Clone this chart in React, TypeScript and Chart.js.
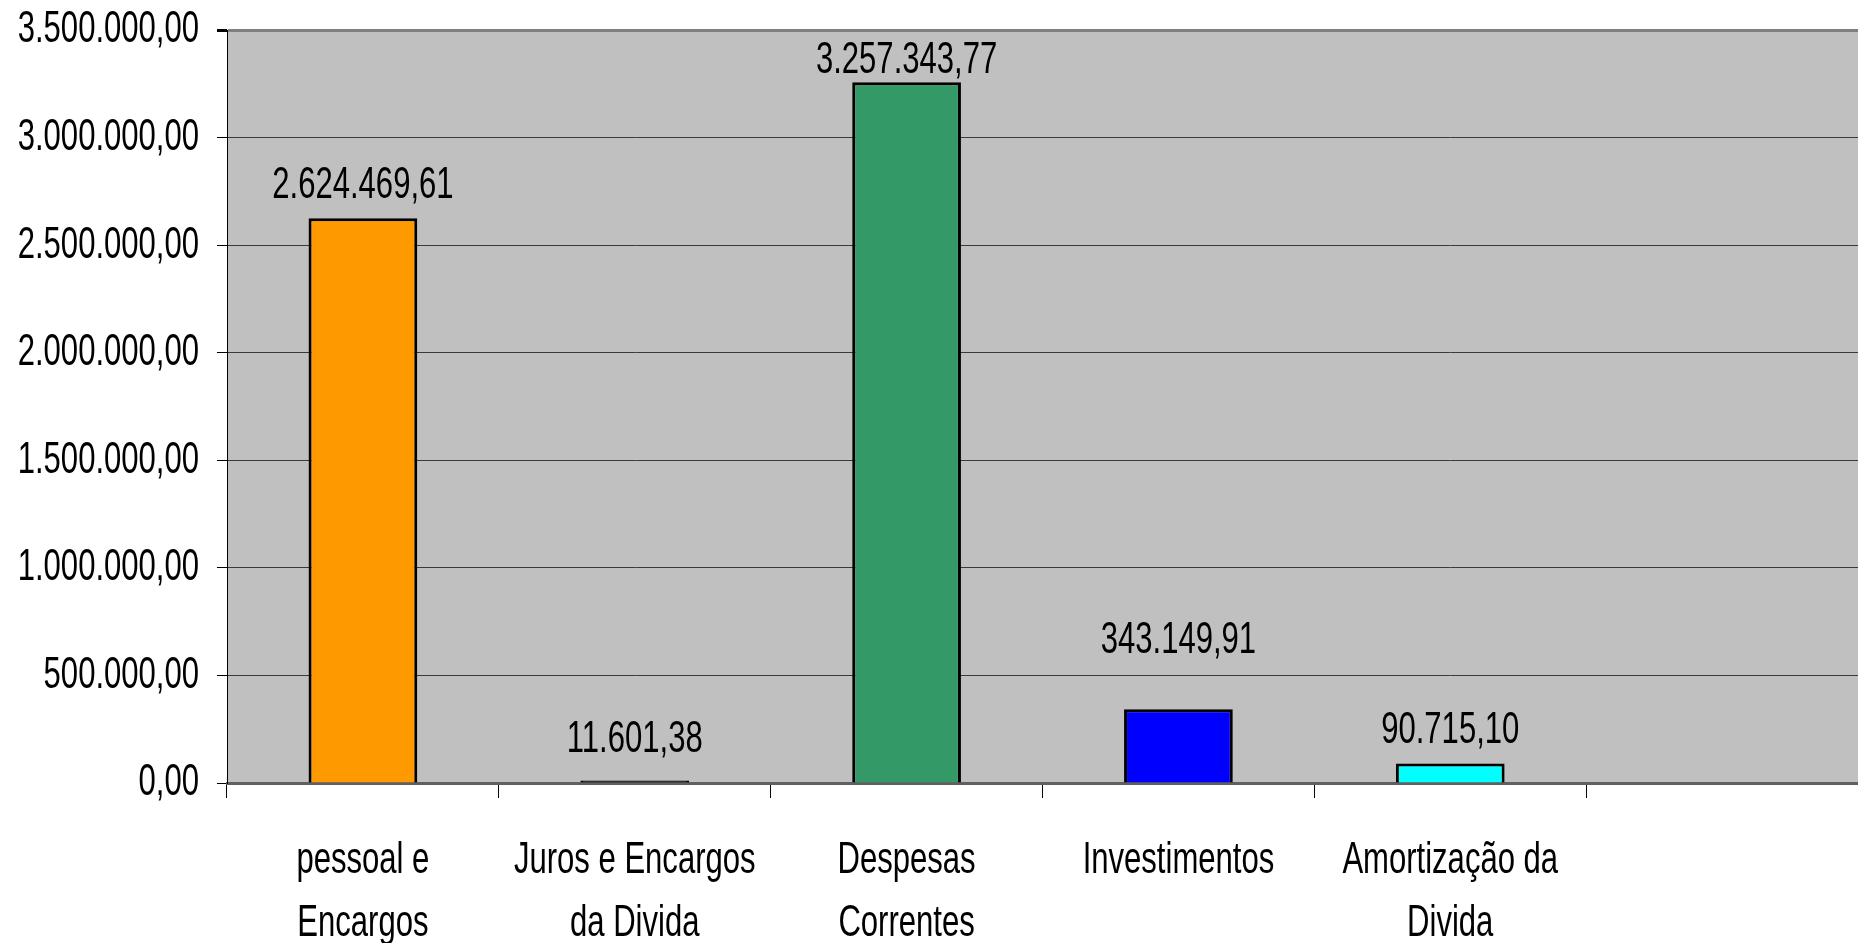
import React, { useEffect, useRef } from "react";
import { Chart, registerables } from "chart.js";

Chart.register(...registerables);

const categories: (string | string[])[] = [
  ["pessoal e", "Encargos"],
  ["Juros e Encargos", "da Divida"],
  ["Despesas", "Correntes"],
  ["Investimentos"],
  ["Amortização da", "Divida"],
  "",
];
const values: (number | null)[] = [2624469.61, 11601.38, 3257343.77, 343149.91, 90715.1, null];
const barColors = ["#FF9900", "#000000", "#339966", "#0000FF", "#00FFFF", "#000000"];
const yMin = 0;
const yMax = 3500000;
const yStep = 500000;
// pixel gap between each value label's baseline and its bar top
const labelLift = [20, 29, 9, 56, 20, 0];

const FONT = '"Liberation Sans", Arial, sans-serif';
const FONT_SIZE = 45;
const TEXT_SQUEEZE = 0.69; // horizontal condensing of all text

function fmt(v: number): string {
  const [i, d] = Math.abs(v).toFixed(2).split(".");
  return i.replace(/\B(?=(\d{3})+(?!\d))/g, ".") + "," + d;
}

const bgPlugin = {
  id: "plotBg",
  beforeDraw(chart: any) {
    const { ctx, chartArea } = chart;
    ctx.save();
    ctx.fillStyle = "#C0C0C0";
    ctx.fillRect(chartArea.left, chartArea.top, chartArea.right - chartArea.left, chartArea.bottom - chartArea.top);
    ctx.restore();
  },
};

const labelPlugin = {
  id: "valueLabels",
  afterDatasetsDraw(chart: any) {
    const { ctx } = chart;
    const meta = chart.getDatasetMeta(0);
    ctx.save();
    ctx.font = `${FONT_SIZE}px ${FONT}`;
    ctx.fillStyle = "#000000";
    ctx.textAlign = "center";
    ctx.textBaseline = "alphabetic";
    meta.data.forEach((bar: any, i: number) => {
      const v = values[i];
      if (v == null) return;
      ctx.fillText(fmt(v), bar.x, bar.y - labelLift[i]);
    });
    ctx.restore();
  },
};

function condenseText(ctx: any, sx: number) {
  const origFill = ctx.fillText.bind(ctx);
  const origMeasure = ctx.measureText.bind(ctx);
  ctx.fillText = (text: string, x: number, y: number, maxWidth?: number) => {
    ctx.save();
    ctx.translate(x, y);
    ctx.scale(sx, 1);
    if (maxWidth === undefined || maxWidth === null) origFill(text, 0, 0);
    else origFill(text, 0, 0, maxWidth / sx);
    ctx.restore();
  };
  ctx.measureText = (text: string) => {
    const m = origMeasure(text);
    return {
      width: m.width * sx,
      actualBoundingBoxAscent: m.actualBoundingBoxAscent,
      actualBoundingBoxDescent: m.actualBoundingBoxDescent,
      actualBoundingBoxLeft: m.actualBoundingBoxLeft * sx,
      actualBoundingBoxRight: m.actualBoundingBoxRight * sx,
      fontBoundingBoxAscent: m.fontBoundingBoxAscent,
      fontBoundingBoxDescent: m.fontBoundingBoxDescent,
    };
  };
}

export default function App() {
  const ref = useRef<HTMLCanvasElement>(null);
  useEffect(() => {
    if (!ref.current) return;
    const ctx = ref.current.getContext("2d");
    condenseText(ctx, TEXT_SQUEEZE);
    const chart = new Chart(ref.current, {
      type: "bar",
      data: {
        labels: categories,
        datasets: [
          {
            data: values,
            backgroundColor: barColors,
            borderColor: "#000000",
            borderWidth: 3,
            categoryPercentage: 1,
            barPercentage: 0.4,
          },
        ],
      },
      options: {
        responsive: false,
        animation: false,
        layout: { padding: { top: 30, right: 0, left: 0, bottom: 0 } },
        plugins: {
          legend: { display: false },
          tooltip: { enabled: false },
        },
        scales: {
          x: {
            offset: true,
            grid: {
              offset: true,
              drawOnChartArea: false,
              drawTicks: true,
              tickLength: 15,
              tickColor: "#000000",
              tickWidth: 1,
            },
            border: { display: true, color: "#606060", width: 3 },
            ticks: {
              color: "#000000",
              font: { family: FONT, size: FONT_SIZE, lineHeight: 1.4 },
              padding: 31,
              maxRotation: 0,
              autoSkip: false,
            },
            afterFit(scale: any) {
              scale.height = 160;
              scale.paddingLeft = 0;
              scale.paddingRight = 0;
            },
          },
          y: {
            min: yMin,
            max: yMax,
            grid: {
              color: (c: any) => (c.tick && c.tick.value === yMax ? "#808080" : "#3a3a3a"),
              lineWidth: (c: any) => (c.tick && c.tick.value === yMax ? 3 : 1),
              tickColor: "#000000",
              tickLength: 10,
            },
            border: { display: true, color: "#000000", width: 1 },
            ticks: {
              stepSize: yStep,
              color: "#000000",
              font: { family: FONT, size: FONT_SIZE },
              padding: 18,
              callback: (v: any) => fmt(Number(v)),
            },
            afterFit(scale: any) {
              scale.width = 227;
              scale.paddingTop = 0;
              scale.paddingBottom = 0;
            },
          },
        },
      },
      plugins: [bgPlugin, labelPlugin],
    });
    return () => chart.destroy();
  }, []);
  return (
    <div style={{ position: "absolute", left: 0, top: 0, width: 1858, height: 943, background: "#ffffff" }}>
      <canvas ref={ref} width={1858} height={943} />
    </div>
  );
}
